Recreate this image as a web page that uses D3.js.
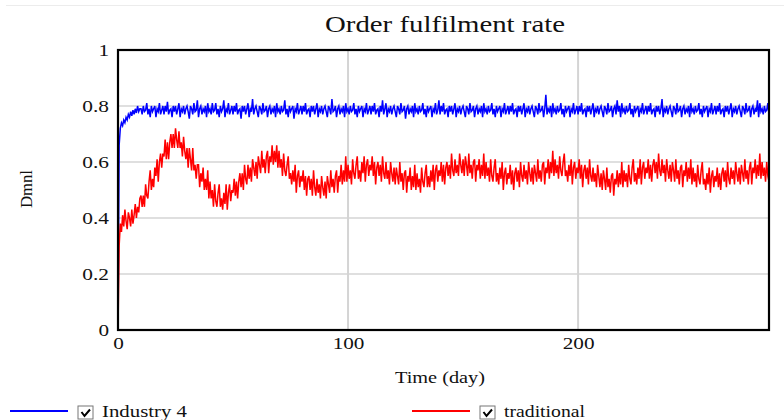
<!DOCTYPE html>
<html>
<head>
<meta charset="utf-8">
<script src="https://cdn.jsdelivr.net/npm/d3@7"></script>
<style>
body { margin: 0; background: #fff; }
</style>
</head>
<body>
<svg id="chart" width="784" height="420"></svg>
<script>
// simulation output, one value every half day (t = 0 .. 283)
var timeStep = 0.5;
var industry4 = [
	0, .66, .72, .74, .73, .75, .74, .76, .75, .77, .76, .78, .765, .785, .77, .79, .775, .80, .78, .79,
	.79, .77, .80, .78, .785, .81, .77, .79, .76, .80, .78, .79, .80, .76, .79, .78, .81, .77, .785, .80,
	.77, .80, .78, .815, .77, .785, .79, .76, .80, .78, .80, .77, .79, .81, .76, .79, .78, .80, .77, .79,
	.80, .78, .755, .80, .79, .77, .81, .78, .785, .82, .76, .79, .80, .77, .79, .78, .80, .76, .81, .78,
	.79, .77, .81, .78, .785, .81, .77, .79, .76, .80, .78, .79, .82, .76, .79, .78, .81, .77, .785, .80,
	.77, .80, .78, .81, .77, .785, .79, .755, .80, .78, .80, .77, .79, .81, .76, .79, .78, .825, .77, .79,
	.80, .78, .76, .80, .79, .77, .81, .78, .785, .80, .76, .79, .80, .77, .79, .78, .80, .76, .81, .78,
	.79, .77, .80, .78, .785, .82, .77, .79, .76, .80, .78, .79, .80, .755, .79, .78, .81, .77, .785, .80,
	.77, .80, .78, .81, .77, .785, .79, .76, .80, .78, .80, .77, .79, .81, .76, .79, .78, .80, .77, .79,
	.80, .78, .76, .80, .79, .77, .825, .78, .785, .80, .76, .79, .80, .77, .79, .78, .80, .76, .81, .78,
	.79, .77, .80, .78, .785, .81, .77, .79, .76, .80, .78, .79, .80, .76, .79, .78, .81, .77, .785, .80,
	.77, .80, .78, .81, .77, .785, .79, .76, .80, .78, .82, .77, .79, .81, .76, .79, .78, .80, .77, .79,
	.80, .78, .76, .80, .79, .77, .81, .78, .785, .80, .755, .79, .80, .77, .79, .78, .80, .76, .81, .78,
	.79, .77, .80, .78, .785, .81, .77, .79, .76, .80, .78, .79, .80, .76, .79, .78, .81, .77, .785, .82,
	.77, .80, .78, .81, .77, .785, .79, .76, .80, .78, .80, .77, .79, .81, .76, .79, .78, .80, .77, .79,
	.80, .78, .76, .80, .79, .77, .81, .78, .785, .80, .76, .79, .80, .77, .79, .78, .80, .76, .81, .78,
	.79, .77, .80, .78, .785, .81, .77, .79, .76, .80, .78, .79, .80, .76, .79, .78, .81, .77, .785, .80,
	.77, .80, .78, .81, .77, .785, .79, .76, .80, .78, .80, .77, .79, .81, .76, .79, .78, .80, .77, .79,
	.80, .78, .76, .80, .79, .77, .81, .78, .785, .80, .76, .79, .84, .77, .79, .78, .80, .76, .81, .78,
	.79, .77, .80, .78, .785, .81, .77, .79, .76, .80, .78, .79, .80, .76, .79, .78, .81, .77, .785, .80,
	.77, .80, .78, .81, .77, .785, .79, .76, .80, .78, .80, .77, .79, .81, .76, .79, .78, .80, .77, .79,
	.80, .78, .76, .80, .79, .77, .81, .78, .785, .80, .76, .79, .80, .77, .82, .78, .80, .76, .81, .78,
	.79, .77, .80, .78, .785, .81, .77, .79, .76, .80, .78, .79, .80, .76, .79, .78, .81, .77, .785, .80,
	.77, .80, .78, .81, .77, .785, .79, .76, .80, .78, .80, .77, .79, .825, .76, .79, .78, .80, .77, .79,
	.80, .78, .76, .80, .79, .77, .81, .78, .785, .80, .76, .79, .80, .77, .79, .78, .80, .76, .81, .78,
	.79, .77, .80, .78, .785, .81, .77, .79, .76, .80, .78, .79, .80, .76, .79, .78, .81, .77, .785, .80,
	.77, .80, .78, .81, .77, .785, .79, .76, .80, .78, .80, .77, .79, .81, .76, .79, .78, .80, .77, .79,
	.80, .78, .76, .80, .79, .77, .81, .78, .785, .80, .76, .79, .80, .77, .79, .78, .82, .76, .81, .78,
	.79, .77, .80, .78, .785, .81, .77
];
var traditional = [
	0, .30, .38, .35, .41, .37, .43, .39, .36, .42, .40, .37, .43, .38, .41, .45, .40, .44, .42, .47,
	.48, .44, .48, .44, .52, .48, .47, .53, .57, .50, .54, .51, .58, .55, .61, .53, .60, .63, .58, .63,
	.62, .68, .61, .67, .61, .67, .70, .65, .70, .65, .72, .68, .65, .71, .65, .67, .62, .69, .64, .61,
	.65, .58, .65, .61, .57, .65, .57, .59, .54, .59, .59, .51, .56, .53, .58, .50, .54, .50, .57, .47,
	.53, .47, .50, .44, .52, .46, .44, .49, .52, .44, .47, .43, .49, .45, .52, .43, .49, .52, .46, .50,
	.49, .54, .48, .53, .47, .53, .56, .51, .56, .50, .59, .54, .52, .59, .54, .58, .53, .61, .58, .55,
	.60, .54, .62, .59, .56, .64, .58, .61, .56, .62, .64, .56, .62, .60, .66, .59, .64, .60, .66, .58,
	.64, .58, .61, .55, .63, .57, .55, .59, .62, .54, .56, .52, .57, .53, .59, .49, .55, .57, .51, .55,
	.53, .57, .50, .55, .48, .54, .55, .50, .54, .48, .57, .51, .48, .54, .49, .52, .47, .55, .51, .48,
	.53, .47, .55, .52, .49, .57, .51, .54, .49, .55, .57, .49, .55, .53, .59, .52, .57, .53, .62, .53,
	.59, .54, .57, .52, .61, .56, .54, .59, .62, .54, .57, .53, .60, .56, .62, .53, .59, .61, .55, .59,
	.57, .62, .55, .60, .52, .58, .60, .55, .59, .53, .62, .56, .54, .60, .54, .57, .52, .60, .56, .53,
	.58, .52, .58, .55, .52, .60, .53, .56, .50, .56, .57, .49, .55, .53, .58, .50, .55, .51, .59, .50,
	.56, .51, .54, .49, .58, .53, .51, .56, .59, .51, .55, .51, .57, .53, .59, .50, .57, .59, .53, .57,
	.55, .60, .53, .59, .52, .58, .60, .55, .59, .54, .63, .57, .55, .61, .56, .59, .55, .63, .59, .56,
	.61, .55, .62, .59, .55, .63, .56, .59, .54, .60, .61, .53, .59, .57, .61, .54, .59, .55, .63, .54,
	.60, .55, .58, .53, .61, .55, .53, .58, .61, .53, .56, .52, .58, .54, .60, .50, .56, .58, .52, .56,
	.54, .59, .52, .57, .50, .56, .58, .53, .57, .51, .60, .55, .53, .59, .54, .57, .52, .60, .56, .53,
	.58, .52, .59, .56, .53, .61, .54, .57, .53, .59, .60, .52, .58, .56, .61, .54, .60, .56, .64, .55,
	.61, .56, .59, .54, .62, .57, .55, .60, .63, .55, .57, .53, .59, .55, .61, .52, .58, .60, .54, .58,
	.56, .61, .54, .59, .51, .57, .59, .54, .58, .52, .61, .55, .53, .58, .53, .56, .51, .59, .55, .51,
	.56, .50, .57, .54, .50, .58, .51, .54, .49, .55, .56, .48, .54, .52, .57, .51, .56, .52, .60, .51,
	.57, .53, .56, .51, .59, .54, .52, .58, .61, .53, .56, .52, .58, .54, .61, .52, .58, .60, .54, .58,
	.56, .61, .54, .59, .53, .59, .61, .56, .60, .54, .63, .57, .55, .61, .56, .59, .53, .61, .57, .54,
	.59, .53, .60, .57, .53, .61, .54, .57, .52, .58, .59, .51, .57, .55, .60, .53, .58, .54, .61, .52,
	.58, .53, .56, .51, .59, .54, .52, .57, .60, .52, .54, .50, .56, .52, .58, .49, .55, .57, .51, .55,
	.53, .58, .51, .56, .50, .56, .58, .53, .57, .51, .60, .54, .52, .58, .54, .57, .52, .60, .56, .53,
	.58, .52, .59, .56, .53, .61, .54, .57, .52, .58, .60, .52, .58, .56, .61, .54, .59, .55, .63, .54,
	.60, .55, .58, .53, .60, .55, .53
];
var seriesNames = ["Industry 4", "traditional"];
var seriesColors = ["#0000ff", "#ff0000"];
var xTicks = [0, 100, 200];
var yTicks = [0, 0.2, 0.4, 0.6, 0.8, 1];

var serif = "'Liberation Serif', 'Times New Roman', serif";

var svg = d3.select("#chart"),
	margin = { top: 50, right: 15, bottom: 90, left: 118 },
	width = 784 - margin.left - margin.right,
	height = 420 - margin.top - margin.bottom;

// faint line along the top of the window
svg.append("line")
	.attr("x1", 6).attr("x2", 784)
	.attr("y1", 5.5).attr("y2", 5.5)
	.attr("stroke", "#ececec");

var g = svg.append("g").attr("transform", "translate(" + margin.left + "," + margin.top + ")");

var x = d3.scaleLinear().domain([0, (industry4.length - 1) * timeStep]).range([0, width]);
var y = d3.scaleLinear().domain([0, 1]).range([height, 0]);

// the reference text is drawn wider than the font, so stretch it
var tickLen = function (s) {
	s = String(s);
	var dots = s.length - s.replace(/\./g, "").length;
	return (s.length - dots) * 10.6 + dots * 5.5;
};

// grid
g.selectAll(".hgrid")
	.data(yTicks.slice(1, -1))
	.enter().append("line")
	.attr("x1", 0).attr("x2", width)
	.attr("y1", function (d) { return y(d); })
	.attr("y2", function (d) { return y(d); })
	.attr("stroke", "#d4d4d4")
	.attr("stroke-width", 1.5);

g.selectAll(".vgrid")
	.data(xTicks.slice(1))
	.enter().append("line")
	.attr("x1", function (d) { return x(d); })
	.attr("x2", function (d) { return x(d); })
	.attr("y1", 0).attr("y2", height)
	.attr("stroke", "#d4d4d4")
	.attr("stroke-width", 2);

// axes, labels only
var yAxis = g.append("g")
	.call(d3.axisLeft(y).tickValues(yTicks).tickFormat(d3.format("")).tickSize(0).tickPadding(9));
yAxis.select(".domain").remove();
yAxis.selectAll("text")
	.style("font-family", serif).style("font-size", "16px").style("fill", "#111")
	.attr("textLength", function () { return tickLen(this.textContent); })
	.attr("lengthAdjust", "spacingAndGlyphs");

var xAxis = g.append("g")
	.attr("transform", "translate(0," + height + ")")
	.call(d3.axisBottom(x).tickValues(xTicks).tickSize(0).tickPadding(8));
xAxis.select(".domain").remove();
xAxis.selectAll("text")
	.style("font-family", serif).style("font-size", "16px").style("fill", "#111")
	.attr("textLength", function () { return tickLen(this.textContent); })
	.attr("lengthAdjust", "spacingAndGlyphs");

// series
var line = d3.line()
	.x(function (d, i) { return x(i * timeStep); })
	.y(function (d) { return y(d); });

[industry4, traditional].forEach(function (s, k) {
	g.append("path")
		.datum(s)
		.attr("fill", "none")
		.attr("stroke", seriesColors[k])
		.attr("stroke-width", 1.5)
		.attr("d", line);
});

// frame
g.append("rect")
	.attr("x", 0).attr("y", 0)
	.attr("width", width).attr("height", height)
	.attr("fill", "none")
	.attr("stroke", "#000")
	.attr("stroke-width", 2.2);

// titles
var addText = function (xp, yp, str, size, len, anchor) {
	return svg.append("text")
		.attr("x", xp).attr("y", yp)
		.attr("text-anchor", anchor)
		.attr("textLength", len)
		.attr("lengthAdjust", "spacingAndGlyphs")
		.style("font-family", serif)
		.style("font-size", size + "px")
		.style("fill", "#111")
		.text(str);
};

addText(445, 32, "Order fulfilment rate", 23, 240, "middle");
addText(0, 0, "Dmnl", 16, 38, "middle").attr("transform", "translate(32,189) rotate(-90)");
addText(440, 383, "Time (day)", 17, 90, "middle");

// legend
var legendX = [10, 412];
var legendLen = [85, 81];
seriesNames.forEach(function (name, k) {
	var lg = svg.append("g").attr("transform", "translate(" + legendX[k] + ",411)");
	lg.append("line")
		.attr("x1", 0).attr("x2", 58)
		.attr("y1", 0).attr("y2", 0)
		.attr("stroke", seriesColors[k])
		.attr("stroke-width", 2);
	lg.append("rect")
		.attr("x", 68).attr("y", -5)
		.attr("width", 15).attr("height", 13)
		.attr("fill", "#fff")
		.attr("stroke", "#777")
		.attr("stroke-width", 1);
	lg.append("path")
		.attr("d", "M71.5,1 L74.5,5 L80,-1.5")
		.attr("fill", "none")
		.attr("stroke", "#000")
		.attr("stroke-width", 2);
	lg.append("text")
		.attr("x", 92).attr("y", 6)
		.attr("textLength", legendLen[k])
		.attr("lengthAdjust", "spacingAndGlyphs")
		.style("font-family", serif)
		.style("font-size", "17px")
		.style("fill", "#111")
		.text(name);
});
</script>
</body>
</html>
